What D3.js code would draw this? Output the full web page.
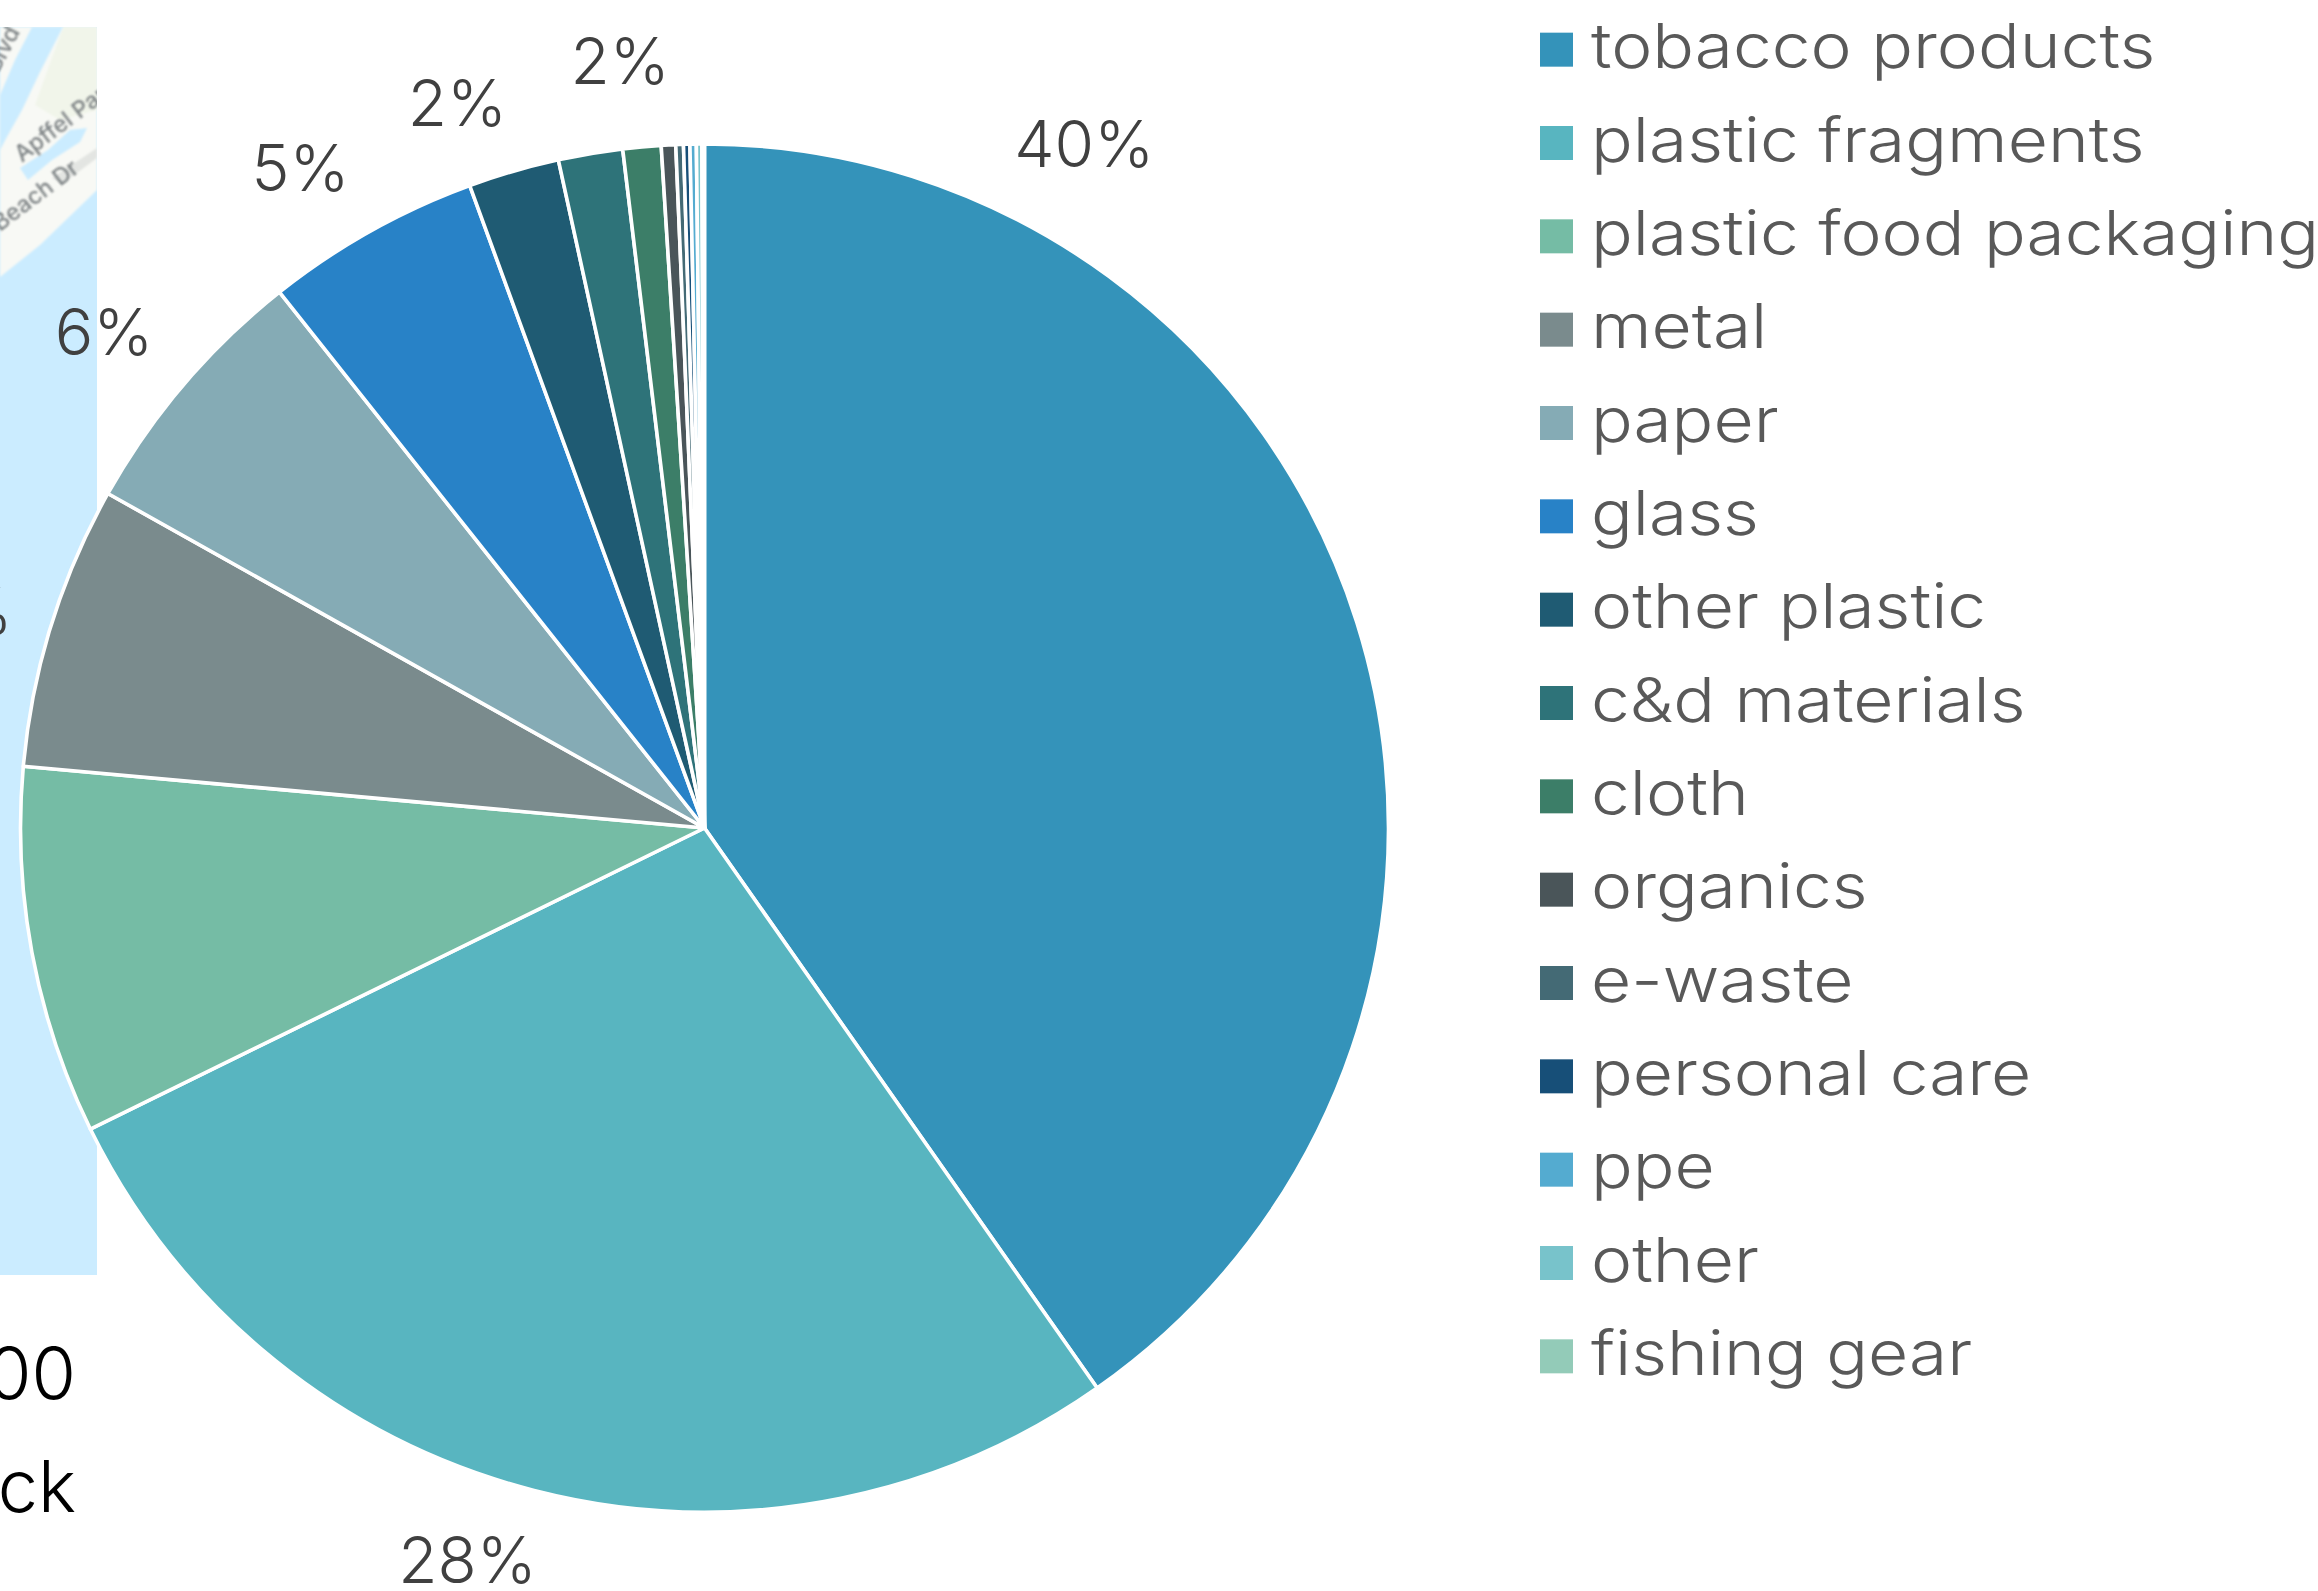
<!DOCTYPE html>
<html>
<head>
<meta charset="utf-8">
<script src="https://cdn.jsdelivr.net/npm/d3@7"></script>
<style>
html, body { margin: 0; padding: 0; background: #fff; }
svg { display: block; }
text { font-family: Inter, Lato, sans-serif; font-weight: 300; }
</style>
</head>
<body>
<div id="graph"></div>
<script>
var categories = ["tobacco products", "plastic fragments", "plastic food packaging", "metal", "paper", "glass",
    "other plastic", "c&d materials", "cloth", "organics", "e-waste", "personal care", "ppe", "other", "fishing gear"];
var values = [40.3, 27.5, 8.7, 6.7, 6.2, 5.1, 2.15, 1.52, 0.9, 0.34, 0.18, 0.15, 0.15, 0.13, 0.06];
var colors = ["#3493ba", "#58b5c0", "#75bca5", "#7a8b8d", "#85abb5", "#2882c7", "#1f5b73", "#2e7379",
    "#3c7e68", "#4a5559", "#446a75", "#174f78", "#54abd0", "#78c3cb", "#93cbb8"];
// the 8% label of the food packaging slice falls off the picture
var labels = ["40%", "28%", "", "7%", "6%", "5%", "2%", "2%"];

var width = 2318, height = 1591;
var cx = 704.5, cy = 828, radius = 684;

var svg = d3.select("#graph").append("svg")
    .attr("width", width)
    .attr("height", height);

// what is left of the map behind the chart
var defs = svg.append("defs");
defs.append("clipPath").attr("id", "mapclip").append("rect")
    .attr("x", 0).attr("y", 27).attr("width", 97).attr("height", 1248);
defs.append("filter").attr("id", "soft").append("feGaussianBlur").attr("stdDeviation", 0.8);

var map = svg.append("g").attr("clip-path", "url(#mapclip)");
map.append("rect").attr("x", 0).attr("y", 27).attr("width", 97).attr("height", 1248).attr("fill", "#cbecff");
var mapShapes = [
    ["M0,277 L40,245 L97,190 L97,27 L0,27 Z", "#f8f9f5"],
    ["M63,27 L97,27 L97,110 L60,120 L35,105 Z", "#f1f5ea"],
    ["M32,27 L63,27 L40,72 L22,110 L8,135 L0,150 L0,95 L15,60 Z", "#cbecff"],
    ["M87,128 L80,142 L52,160 L28,180 L20,168 L48,150 L70,130 Z", "#cbecff"],
    ["M52,178 L97,148 L97,158 L62,184 Z", "#e3e5e2"]
];
map.selectAll(".land").data(mapShapes).enter().append("path")
    .attr("class", "land")
    .attr("d", function (d) { return d[0]; })
    .attr("fill", function (d) { return d[1]; })
    .attr("filter", "url(#soft)");
var mapLabels = [["Blvd", -2, 74, -62], ["Apffel Park", 22, 163, -37], ["Beach Dr", 0, 232, -37]];
map.selectAll(".maplabel").data(mapLabels).enter().append("text")
    .attr("class", "maplabel")
    .attr("transform", function (d) { return "translate(" + d[1] + "," + d[2] + ") rotate(" + d[3] + ")"; })
    .attr("filter", "url(#soft)")
    .style("font-size", "23px")
    .style("font-weight", 500)
    .attr("fill", "#7c8183")
    .text(function (d) { return d[0]; });

// cut off text from the panel on the left
svg.append("text").attr("x", 76).attr("y", 1399).attr("text-anchor", "end")
    .style("font-size", "72px").attr("fill", "#000").text("00");
svg.append("text").attr("x", 76).attr("y", 1512).attr("text-anchor", "end")
    .style("font-size", "72px").attr("fill", "#000").text("ck");

var pie = d3.pie().sort(null).value(function (d) { return d; });
var arc = d3.arc().innerRadius(0).outerRadius(radius);
var labelArc = d3.arc().innerRadius(radius + 55).outerRadius(radius + 55);
var arcs = pie(values);

var chart = svg.append("g").attr("transform", "translate(" + cx + "," + cy + ")");

chart.selectAll(".slice").data(arcs).enter().append("path")
    .attr("class", "slice")
    .attr("d", arc)
    .attr("fill", function (d, i) { return colors[i]; })
    .attr("stroke", "#fff")
    .attr("stroke-width", 3.6)
    .attr("stroke-linejoin", "round");

// labels were moved by hand in the original, so each one has a nudge from its slice
var nudges = [[-325, -461], [-53, 17], [0, 0], [-34, 2], [-38, -16], [-43, -15], [-41, -15], [39, -38]];
chart.selectAll(".pct").data(labels).enter().append("text")
    .attr("class", "pct")
    .attr("x", function (d, i) { return labelArc.centroid(arcs[i])[0] + nudges[i][0]; })
    .attr("y", function (d, i) { return labelArc.centroid(arcs[i])[1] + nudges[i][1]; })
    .attr("text-anchor", "middle")
    .attr("dy", "0.35em")
    .style("font-size", "64px")
    .attr("fill", "#404040")
    .text(function (d) { return d; });

var y = d3.scaleBand().domain(categories).range([3, 1403]);

var legend = svg.selectAll(".legend").data(categories).enter().append("g")
    .attr("class", "legend")
    .attr("transform", function (d) { return "translate(1540," + y(d) + ")"; });

legend.append("rect")
    .attr("width", 33)
    .attr("height", 34)
    .attr("y", y.bandwidth() / 2 - 17)
    .attr("fill", function (d, i) { return colors[i]; });

// no Montserrat here, so Inter is widened to the same text width
legend.append("text")
    .attr("transform", "translate(51," + (y.bandwidth() / 2) + ") scale(1.12,1)")
    .attr("dy", "0.3em")
    .style("font-size", "62px")
    .attr("fill", "#595959")
    .text(function (d) { return d; });
</script>
</body>
</html>
